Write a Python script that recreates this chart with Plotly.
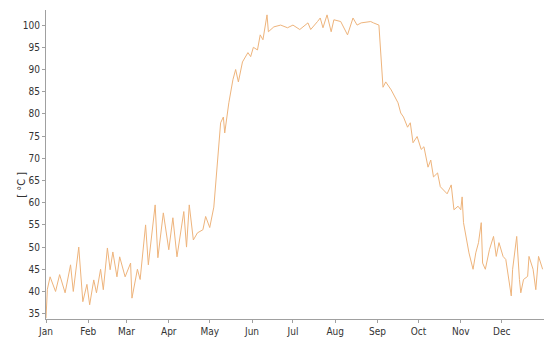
import datetime as dt
import plotly.graph_objects as go

# Daily temperature readings: day-of-year offsets and values in °C
day_offsets = [
    0, 1, 3, 7, 10, 14, 18, 20, 24, 27, 30, 32, 35, 37, 40, 42, 45, 47, 49, 52,
    54, 58, 62, 63, 67, 69, 73, 75, 80, 82, 86, 90, 93, 96, 101, 103, 105, 108,
    111, 115, 117, 120, 123, 128, 130, 131, 134, 137, 139, 141, 144, 148, 150,
    152, 155, 157, 159, 162, 163, 167, 172, 177, 181, 186, 192, 194, 199, 201,
    203, 206, 209, 211, 216, 221, 225, 228, 231, 238, 240, 244, 247, 249, 253,
    258, 260, 262, 265, 267, 269, 272, 275, 277, 280, 282, 284, 287, 289, 293,
    294, 297, 299, 302, 304, 305, 306, 310, 313, 315, 317, 319, 320, 322, 325,
    328, 330, 332, 335, 337, 339, 341, 342, 345, 347, 348, 350, 353, 354, 357,
    359, 361, 364,
]
temperatures = [
    34.0, 40.5, 43.3, 40.0, 43.8, 39.7, 46.0, 40.0, 50.0, 37.7, 41.6, 37.0,
    42.6, 39.7, 45.0, 40.4, 49.8, 44.9, 48.9, 43.3, 47.8, 43.3, 46.4, 38.5,
    45.0, 42.7, 55.0, 46.0, 59.5, 47.6, 57.7, 49.4, 56.6, 47.8, 58.0, 50.0,
    59.5, 51.6, 53.2, 53.9, 56.9, 54.4, 59.0, 78.0, 79.3, 75.7, 82.5, 87.7,
    90.0, 87.2, 91.7, 93.8, 92.9, 95.0, 94.4, 97.8, 96.7, 102.3, 98.5, 99.6,
    100.0, 99.4, 100.0, 99.0, 100.5, 99.0, 100.8, 101.6, 99.4, 102.3, 98.5,
    101.2, 100.8, 97.8, 101.6, 100.0, 100.5, 100.8, 100.5, 100.0, 86.0, 87.2,
    85.4, 82.5, 80.2, 79.3, 77.0, 78.0, 73.5, 74.9, 72.0, 72.6, 68.0, 69.6,
    65.8, 66.7, 63.6, 62.2, 62.0, 64.0, 58.4, 59.2, 58.4, 61.3, 55.5, 48.7,
    45.0, 48.7, 51.0, 55.5, 46.4, 45.0, 49.4, 52.4, 47.9, 51.0, 47.9, 47.2,
    42.7, 39.0, 45.0, 52.4, 42.7, 39.7, 42.7, 43.4, 47.9, 45.0, 40.4, 47.9,
    45.0,
]
year_start = dt.date(2021, 1, 1)
dates = [year_start + dt.timedelta(days=d) for d in day_offsets]

y_ticks = list(range(35, 101, 5))
month_ticks = [dt.date(2021, m, 1) for m in range(1, 13)]

FONT = "DejaVu Sans Condensed, Liberation Sans, sans-serif"
AXIS_GREY = "#a0a0a0"
TEXT = "#333333"

fig = go.Figure(
    go.Scatter(
        x=dates,
        y=temperatures,
        mode="lines",
        line=dict(color="#eeb47c", width=1),
        hoverinfo="skip",
    )
)

fig.update_layout(
    width=545,
    height=341,
    margin=dict(l=46, r=1, t=10, b=22),
    paper_bgcolor="white",
    plot_bgcolor="white",
    showlegend=False,
    font=dict(family=FONT, size=10, color=TEXT),
)

# Unit label to the left of the value axis
fig.add_annotation(
    text="[ °C ]",
    textangle=-90,
    xref="paper", yref="paper",
    x=-0.05, y=0.435,
    xanchor="center", yanchor="middle",
    showarrow=False,
    font=dict(family=FONT, size=11, color=TEXT),
)

fig.update_xaxes(
    range=[dt.datetime(2021, 1, 1), dt.datetime(2022, 1, 1)],
    tickvals=month_ticks,
    tickformat="%b",
    ticks="outside",
    ticklen=3,
    tickcolor=AXIS_GREY,
    showline=True,
    linecolor=AXIS_GREY,
    linewidth=1,
    showgrid=False,
    zeroline=False,
    tickfont=dict(family=FONT, size=10, color=TEXT),
)

fig.update_yaxes(
    range=[33.8, 103.4],
    tickvals=y_ticks,
    ticks="outside",
    ticklen=3,
    tickcolor=AXIS_GREY,
    showline=True,
    linecolor=AXIS_GREY,
    linewidth=1,
    showgrid=False,
    zeroline=False,
    tickfont=dict(family=FONT, size=10, color=TEXT),
)

fig.write_html("out.html")
